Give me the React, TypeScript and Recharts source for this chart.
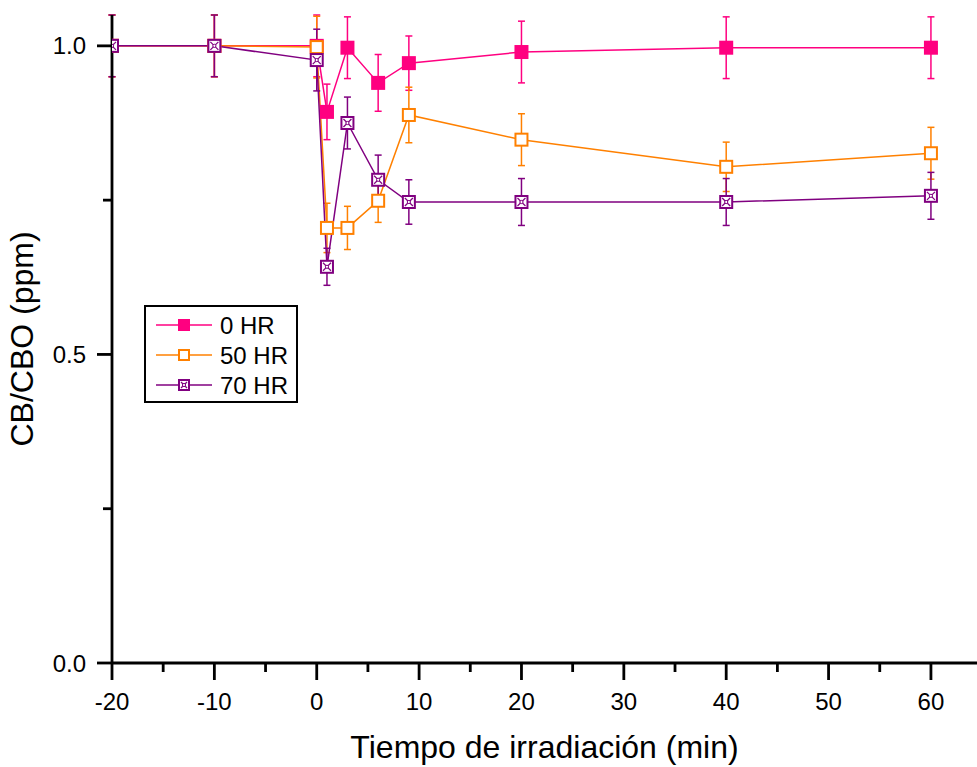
import { LineChart, Line, XAxis, YAxis, ErrorBar, Legend } from 'recharts';

const minutes = [-20, -10, 0, 1, 3, 6, 9, 20, 40, 60];

const hr0 = [1.0, 1.0, 1.0, 0.893, 0.997, 0.94, 0.972, 0.99, 0.997, 0.997];
const hr0Err = [0.05, 0.05, 0.05, 0.045, 0.05, 0.046, 0.044, 0.05, 0.05, 0.05];

const hr50 = [1.0, 1.0, 0.998, 0.705, 0.705, 0.749, 0.888, 0.848, 0.804, 0.826];
const hr50Err = [0.05, 0.05, 0.05, 0.04, 0.035, 0.035, 0.045, 0.042, 0.04, 0.042];

const hr70 = [1.0, 1.0, 0.977, 0.642, 0.875, 0.783, 0.747, 0.747, 0.747, 0.757];
const hr70Err = [0.05, 0.05, 0.05, 0.03, 0.042, 0.04, 0.036, 0.038, 0.038, 0.038];

const xTicks = [-20, -15, -10, -5, 0, 5, 10, 15, 20, 25, 30, 35, 40, 45, 50, 55, 60];
const yTicks = [0, 0.25, 0.5, 0.75, 1.0];

const series = [
  { key: 'hr0', name: '0 HR', color: '#FF0080', kind: 'filled' },
  { key: 'hr50', name: '50 HR', color: '#FF8000', kind: 'open' },
  { key: 'hr70', name: '70 HR', color: '#800080', kind: 'crossed' },
];

const data = minutes.map((m, i) => ({
  min: m,
  hr0: hr0[i],
  hr0Err: hr0Err[i],
  hr50: hr50[i],
  hr50Err: hr50Err[i],
  hr70: hr70[i],
  hr70Err: hr70Err[i],
}));

const FONT = '"Liberation Sans", Arial, sans-serif';

const Marker = ({ cx, cy, kind, color, size = 14 }: any) => {
  if (cx == null || cy == null) return null;
  const h = size / 2;
  if (kind === 'filled') {
    return <rect x={cx - h} y={cy - h} width={size} height={size} fill={color} />;
  }
  if (kind === 'open') {
    return (
      <rect x={cx - h + 1} y={cy - h + 1} width={size - 2} height={size - 2}
        fill="#fff" stroke={color} strokeWidth={2} />
    );
  }
  const s = h - 1;
  return (
    <g>
      <rect x={cx - s} y={cy - s} width={s * 2} height={s * 2} fill="#fff" stroke={color} strokeWidth={2} />
      <line x1={cx - s + 2} y1={cy - s + 2} x2={cx + s - 2} y2={cy + s - 2} stroke={color} strokeWidth={1.2} />
      <line x1={cx - s + 2} y1={cy + s - 2} x2={cx + s - 2} y2={cy - s + 2} stroke={color} strokeWidth={1.2} />
      <circle cx={cx} cy={cy} r={1.6} fill="#fff" stroke={color} strokeWidth={1} />
    </g>
  );
};

const XTick = ({ x, y, payload }: any) => {
  const major = payload.value % 10 === 0;
  return (
    <g>
      <line x1={x} y1={y} x2={x} y2={y + (major ? 17 : 9)} stroke="#000" strokeWidth={2.8} />
      {major && (
        <text x={x} y={y + 47} textAnchor="middle" fontSize={24} fontFamily={FONT} fill="#000">
          {String(payload.value)}
        </text>
      )}
    </g>
  );
};

const YTick = ({ x, y, payload }: any) => {
  const v = payload.value;
  const major = Math.abs(v * 2 - Math.round(v * 2)) < 1e-6;
  return (
    <g>
      <line x1={x} y1={y} x2={x - (major ? 15 : 9)} y2={y} stroke="#000" strokeWidth={2.8} />
      {major && (
        <text x={x - 26} y={y} dy="0.36em" textAnchor="end" fontSize={24} fontFamily={FONT} fill="#000">
          {v.toFixed(1)}
        </text>
      )}
    </g>
  );
};

const LegendBox = () => (
  <svg width={154} height={98}>
    <rect x={1} y={1} width={152} height={96} fill="#fff" stroke="#000" strokeWidth={2} />
    {series.map((s, i) => {
      const cy = 20 + i * 30;
      return (
        <g key={s.key}>
          <line x1={12} y1={cy} x2={68} y2={cy} stroke={s.color} strokeWidth={1.5} />
          <Marker cx={40} cy={cy} kind={s.kind} color={s.color} size={12} />
          <text x={76} y={cy} dy="0.36em" fontSize={24} fontFamily={FONT} fill="#000">
            {s.name}
          </text>
        </g>
      );
    })}
  </svg>
);

export default function App() {
  return (
    <div style={{ position: 'absolute', left: 0, top: 0, background: '#fff' }}>
      <LineChart width={977} height={767} data={data} margin={{ top: 15, right: 0, bottom: 0, left: 0 }}>
        <XAxis
          type="number"
          dataKey="min"
          domain={[-20, 64.5]}
          ticks={xTicks}
          interval={0}
          height={104}
          tickSize={0}
          tickMargin={0}
          tickLine={false}
          tick={<XTick />}
          axisLine={{ stroke: '#000', strokeWidth: 2.8 }}
          allowDataOverflow
          label={{
            value: 'Tiempo de irradiación (min)',
            position: 'insideBottom',
            offset: 9,
            style: { fontSize: 32, fontFamily: FONT, fill: '#000' },
          }}
        />
        <YAxis
          type="number"
          domain={[0, 1.05]}
          ticks={yTicks}
          interval={0}
          width={112}
          tickSize={0}
          tickMargin={0}
          tickLine={false}
          tick={<YTick />}
          axisLine={{ stroke: '#000', strokeWidth: 2.8 }}
          allowDataOverflow
          label={{
            value: 'CB/CBO (ppm)',
            angle: -90,
            position: 'insideLeft',
            offset: 22,
            style: { fontSize: 32, fontFamily: FONT, fill: '#000', textAnchor: 'middle' },
          }}
        />
        <Legend
          layout="vertical"
          align="center"
          verticalAlign="middle"
          content={<LegendBox />}
          wrapperStyle={{ left: 144, top: 305, width: 154, height: 98 }}
        />
        {series.map((s) => (
          <Line
            key={s.key}
            type="linear"
            dataKey={s.key}
            name={s.name}
            stroke={s.color}
            strokeWidth={1.5}
            isAnimationActive={false}
            activeDot={false}
            dot={(p: any) => <Marker key={`${s.key}-${p.index}`} cx={p.cx} cy={p.cy} kind={s.kind} color={s.color} />}
          >
            <ErrorBar dataKey={`${s.key}Err`} direction="y" width={3.5} stroke={s.color} strokeWidth={1.5} isAnimationActive={false} />
          </Line>
        ))}
      </LineChart>
    </div>
  );
}
